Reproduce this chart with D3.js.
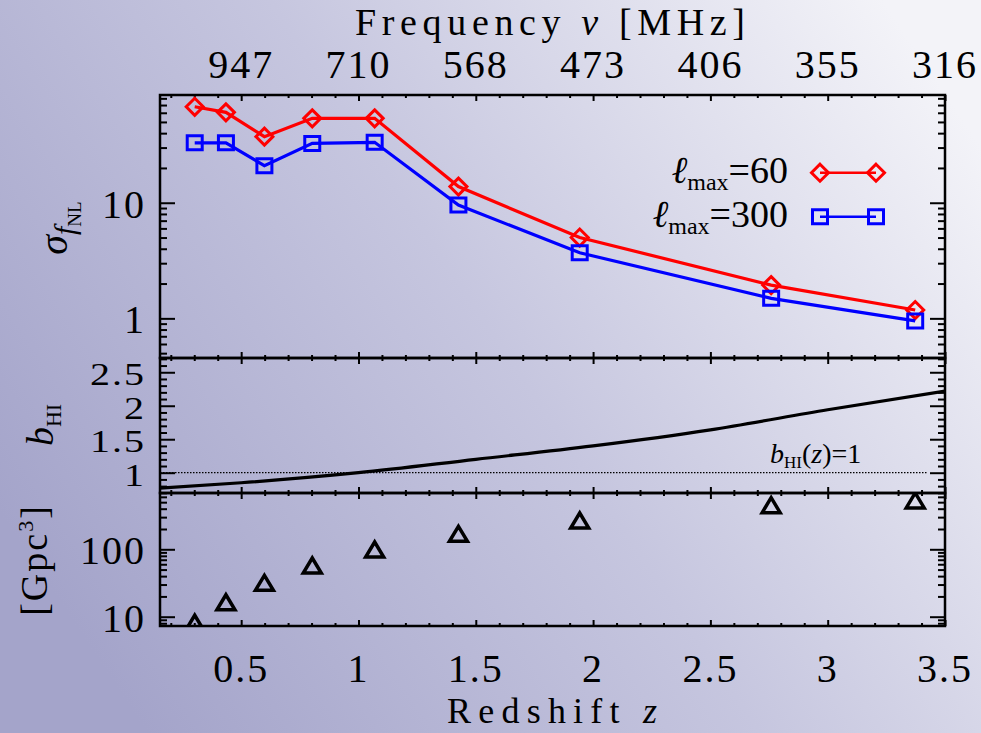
<!DOCTYPE html>
<html>
<head>
<meta charset="utf-8">
<script src="https://cdn.jsdelivr.net/npm/d3@7"></script>
<style>
    body { margin: 0; padding: 0; overflow: hidden; }
    svg { display: block; }
</style>
</head>
<body>
<div id="chart"></div>
<script>

// redshift bins (shared by all three panels)
let zBins = [0.302, 0.435, 0.599, 0.803, 1.069, 1.426, 1.943, 2.759, 3.373];

// forecast error on fNL for the two lmax values
let sigmaLmax60 = [67.6, 60.5, 37.3, 53.7, 53.7, 13.8, 5.0, 1.94, 1.18];
let sigmaLmax300 = [33.0, 33.0, 20.9, 32.6, 33.3, 9.55, 3.69, 1.49, 0.95];

// HI bias curve
let biasZ = [0.154, 0.5, 1.0, 1.5, 2.0, 2.5, 3.0, 3.5];
let biasValues = [0.77, 0.85, 1.0, 1.2, 1.40, 1.64, 1.94, 2.22];

// survey volume per bin [Gpc^3]
let volume = [8.0, 16.1, 31.3, 56.5, 97.6, 167, 263, 443, 521];

// tick labels
let zTicks = [0.5, 1, 1.5, 2, 2.5, 3, 3.5];
let zTickLabels = ["0.5", "1", "1.5", "2", "2.5", "3", "3.5"];
let freqTickLabels = ["947", "710", "568", "473", "406", "355", "316"];
let sigmaTicks = [1, 10];
let biasTicks = [1, 1.5, 2, 2.5];
let biasTickLabels = ["1", "1.5", "2", "2.5"];
let volumeTicks = [10, 100];

let width = 981, height = 733;
let left = 160, right = 945;
let panels = [
    {top: 95, bottom: 358},
    {top: 358, bottom: 493},
    {top: 493, bottom: 626}
];

let svg = d3.select("#chart").append("svg")
    .attr("width", width)
    .attr("height", height)
    .attr("font-family", "'Liberation Serif', 'DejaVu Serif', serif");

// background gradient
let defs = svg.append("defs");
let grad = defs.append("linearGradient")
    .attr("id", "bg")
    .attr("x1", "0%").attr("y1", "70%")
    .attr("x2", "100%").attr("y2", "20%");
grad.append("stop").attr("offset", "0%").attr("stop-color", "#a4a4ca");
grad.append("stop").attr("offset", "50%").attr("stop-color", "#c6c6df");
grad.append("stop").attr("offset", "100%").attr("stop-color", "#f3f3f8");

svg.append("rect")
    .attr("width", width)
    .attr("height", height)
    .attr("fill", "url(#bg)");

// scales
let x = d3.scaleLinear().domain([0.154, 3.5]).range([left, right]);
let y1 = d3.scaleLog().domain([0.454, 85.5]).range([panels[0].bottom, panels[0].top]);
let y2 = d3.scaleLinear().domain([0.697, 2.713]).range([panels[1].bottom, panels[1].top]);
let y3 = d3.scaleLog().domain([7.28, 684]).range([panels[2].bottom, panels[2].top]);

// clip paths for each panel
panels.forEach((p, i) => {
    defs.append("clipPath").attr("id", "clip" + i)
        .append("rect")
        .attr("x", left).attr("y", p.top)
        .attr("width", right - left).attr("height", p.bottom - p.top);
});

// x ticks on every panel edge, pointing inward
let xMinor = d3.range(2, 36).map(d => d / 10).filter(d => d * 10 % 5 !== 0);

panels.forEach(p => {
    [[p.top, d3.axisBottom], [p.bottom, d3.axisTop]].forEach(([yy, axisFn]) => {
        let gMaj = svg.append("g")
            .attr("transform", `translate(0,${yy})`)
            .call(axisFn(x).tickValues(zTicks).tickSize(6).tickFormat(""));
        let gMin = svg.append("g")
            .attr("transform", `translate(0,${yy})`)
            .call(axisFn(x).tickValues(xMinor).tickSize(3).tickFormat(""));
        [gMaj, gMin].forEach(g => {
            g.select(".domain").remove();
            g.selectAll("line").attr("stroke", "#000").attr("stroke-width", 2);
        });
    });
});

// y ticks left and right
function yTicks(scale, major, minor) {
    [[left, d3.axisLeft], [right, d3.axisRight]].forEach(([xx, axisFn]) => {
        let gMaj = svg.append("g")
            .attr("transform", `translate(${xx},0)`)
            .call(axisFn(scale).tickValues(major).tickSize(-15).tickFormat(""));
        let gMin = svg.append("g")
            .attr("transform", `translate(${xx},0)`)
            .call(axisFn(scale).tickValues(minor).tickSize(-7).tickFormat(""));
        [gMaj, gMin].forEach(g => {
            g.select(".domain").remove();
            g.selectAll("line").attr("stroke", "#000").attr("stroke-width", 2);
        });
    });
}

yTicks(y1, sigmaTicks, y1.ticks().filter(d => sigmaTicks.indexOf(d) < 0));
yTicks(y2, biasTicks, d3.range(7, 28).map(d => d / 10).filter(d => d * 10 % 5 !== 0));
yTicks(y3, volumeTicks, y3.ticks().filter(d => volumeTicks.indexOf(d) < 0));

// panel frames
panels.forEach(p => {
    svg.append("rect")
        .attr("x", left).attr("y", p.top)
        .attr("width", right - left).attr("height", p.bottom - p.top)
        .attr("fill", "none")
        .attr("stroke", "#000")
        .attr("stroke-width", 2.5);
});

// tick labels
svg.selectAll(".zlabel")
    .data(zTicks)
    .enter().append("text")
    .attr("class", "zlabel")
    .attr("x", d => x(d))
    .attr("y", 682)
    .attr("text-anchor", "middle")
    .attr("font-size", 40)
    .attr("letter-spacing", 2)
    .text((d, i) => zTickLabels[i]);

svg.selectAll(".flabel")
    .data(zTicks)
    .enter().append("text")
    .attr("class", "flabel")
    .attr("x", d => x(d))
    .attr("y", 78)
    .attr("text-anchor", "middle")
    .attr("font-size", 40)
    .attr("letter-spacing", 2)
    .text((d, i) => freqTickLabels[i]);

svg.selectAll(".slabel")
    .data(sigmaTicks)
    .enter().append("text")
    .attr("class", "slabel")
    .attr("x", 146)
    .attr("y", d => y1(d) + 15)
    .attr("text-anchor", "end")
    .attr("font-size", 40)
    .attr("letter-spacing", 2)
    .text(d => d);

svg.selectAll(".blabel")
    .data(biasTicks)
    .enter().append("text")
    .attr("class", "blabel")
    .attr("transform", d => `translate(146,${y2(d) + 13}) scale(1,0.78)`)
    .attr("text-anchor", "end")
    .attr("font-size", 40)
    .attr("letter-spacing", 2)
    .text((d, i) => biasTickLabels[i]);

svg.selectAll(".vlabel")
    .data(volumeTicks)
    .enter().append("text")
    .attr("class", "vlabel")
    .attr("x", 146)
    .attr("y", d => y3(d) + 15)
    .attr("text-anchor", "end")
    .attr("font-size", 40)
    .attr("letter-spacing", 2)
    .text(d => d);

// axis titles
let topTitle = svg.append("text")
    .attr("x", 550).attr("y", 35)
    .attr("text-anchor", "middle")
    .attr("font-size", 38)
    .attr("textLength", 390)
    .attr("lengthAdjust", "spacing");
topTitle.append("tspan").text("Frequency ");
topTitle.append("tspan").attr("font-style", "italic").text("ν");
topTitle.append("tspan").text(" [MHz]");

let botTitle = svg.append("text")
    .attr("x", 552).attr("y", 723)
    .attr("text-anchor", "middle")
    .attr("font-size", 36)
    .attr("textLength", 210)
    .attr("lengthAdjust", "spacing");
botTitle.append("tspan").text("Redshift ");
botTitle.append("tspan").attr("font-style", "italic").text("z");

let sigTitle = svg.append("text")
    .attr("transform", "translate(67,228) rotate(-90)")
    .attr("text-anchor", "middle")
    .attr("font-size", 40);
sigTitle.append("tspan").attr("font-style", "italic").text("σ");
sigTitle.append("tspan").attr("font-style", "italic").attr("font-size", 30).attr("dy", 8).text("f");
sigTitle.append("tspan").attr("font-size", 19).attr("dy", 6).text("NL");

let biasTitle = svg.append("text")
    .attr("transform", "translate(53,425) rotate(-90)")
    .attr("text-anchor", "middle")
    .attr("font-size", 38);
biasTitle.append("tspan").attr("font-style", "italic").text("b");
biasTitle.append("tspan").attr("font-size", 22).attr("dy", 8).text("HI");

let volTitle = svg.append("text")
    .attr("transform", "translate(47,560) rotate(-90)")
    .attr("text-anchor", "middle")
    .attr("font-size", 38)
    .attr("letter-spacing", 2);
volTitle.append("tspan").text("[Gpc");
volTitle.append("tspan").attr("font-size", 22).attr("dy", -14).text("3");
volTitle.append("tspan").attr("dy", 14).text("]");

// panel 1: sigma(fNL)
let series = [
    {values: sigmaLmax60, color: "#ff0000", marker: "diamond"},
    {values: sigmaLmax300, color: "#0000ff", marker: "square"}
];

function markerPath(type) {
    if (type === "diamond") return "M0,-8.5L8.5,0L0,8.5L-8.5,0Z";
    if (type === "square") return "M-7.5,-7L7.5,-7L7.5,7L-7.5,7Z";
    return "M0,-8L9,7L-9,7Z";
}

let line1 = d3.line()
    .x((d, i) => x(zBins[i]))
    .y(d => y1(d));

let g1 = svg.append("g").attr("clip-path", "url(#clip0)");

series.forEach(s => {
    g1.append("path")
        .datum(s.values)
        .attr("d", line1)
        .attr("fill", "none")
        .attr("stroke", s.color)
        .attr("stroke-width", 3.2);

    g1.selectAll(".m-" + s.marker)
        .data(s.values)
        .enter().append("path")
        .attr("class", "m-" + s.marker)
        .attr("transform", (d, i) => `translate(${x(zBins[i])},${y1(d)})`)
        .attr("d", markerPath(s.marker))
        .attr("fill", "none")
        .attr("stroke", s.color)
        .attr("stroke-width", 3);
});

// legend
let legendRows = [
    {label: "=60", y: 172.7, color: "#ff0000", marker: "diamond"},
    {label: "=300", y: 216.7, color: "#0000ff", marker: "square"}
];

legendRows.forEach(r => {
    let t = svg.append("text")
        .attr("x", 788).attr("y", r.y + 10)
        .attr("text-anchor", "end")
        .attr("font-size", 38);
    t.append("tspan").attr("font-style", "italic").text("ℓ");
    t.append("tspan").attr("font-size", 24).attr("dy", 7).text("max");
    t.append("tspan").attr("dy", -7).text(r.label);

    svg.append("line")
        .attr("x1", 820).attr("x2", 876)
        .attr("y1", r.y).attr("y2", r.y)
        .attr("stroke", r.color)
        .attr("stroke-width", 2.5);

    [820, 876].forEach(mx => {
        svg.append("path")
            .attr("transform", `translate(${mx},${r.y})`)
            .attr("d", markerPath(r.marker))
            .attr("fill", "none")
            .attr("stroke", r.color)
            .attr("stroke-width", 3);
    });
});

// panel 2: HI bias
let g2 = svg.append("g").attr("clip-path", "url(#clip1)");

g2.append("line")
    .attr("x1", left).attr("x2", 927)
    .attr("y1", y2(1)).attr("y2", y2(1))
    .attr("stroke", "#000")
    .attr("stroke-width", 1.2)
    .attr("stroke-dasharray", "1.5,1.5");

g2.append("path")
    .datum(biasValues)
    .attr("d", d3.line()
        .x((d, i) => x(biasZ[i]))
        .y(d => y2(d))
        .curve(d3.curveMonotoneX))
    .attr("fill", "none")
    .attr("stroke", "#000")
    .attr("stroke-width", 3.2);

let bLabel = svg.append("text")
    .attr("x", 770).attr("y", 463)
    .attr("font-size", 28);
bLabel.append("tspan").attr("font-style", "italic").text("b");
bLabel.append("tspan").attr("font-size", 17).attr("dy", 5).text("HI");
bLabel.append("tspan").attr("dy", -5).text("(");
bLabel.append("tspan").attr("font-style", "italic").text("z");
bLabel.append("tspan").text(")=1");

// panel 3: survey volume
let g3 = svg.append("g").attr("clip-path", "url(#clip2)");

g3.selectAll(".tri")
    .data(volume)
    .enter().append("path")
    .attr("class", "tri")
    .attr("transform", (d, i) => `translate(${x(zBins[i])},${y3(d)})`)
    .attr("d", markerPath("triangle"))
    .attr("fill", "none")
    .attr("stroke", "#000")
    .attr("stroke-width", 3.5)
    .attr("stroke-linejoin", "miter");

</script>
</body>
</html>
